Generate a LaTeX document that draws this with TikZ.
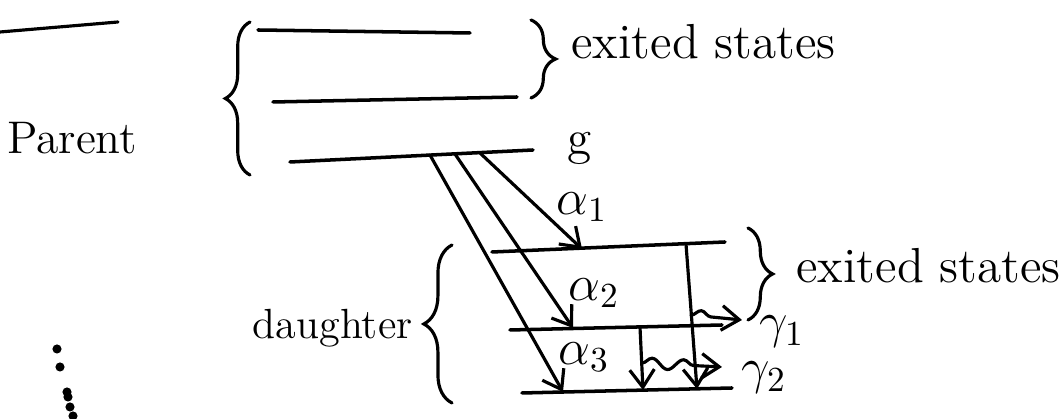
\documentclass[tikz,border=0pt]{standalone}
\usetikzlibrary{arrows.meta,decorations.pathreplacing,decorations.pathmorphing}
\begin{document}
\begin{tikzpicture}[x=0.01cm,y=-0.01cm,line width=0.9pt,line cap=round,
	level/.style={line width=1pt},
	decay/.style={-{Straight Barb[length=5pt,width=7pt]}},
	gammaray/.style={decay,decorate,decoration={snake,amplitude=1.5pt,segment length=9pt,post length=5pt}},
	curly/.style={decorate,decoration={brace,amplitude=#1}},
	hand/.style={font=\fontsize{14}{17}\selectfont,inner sep=0pt}]
	\useasboundingbox (0,0) rectangle (1059,419);
	
	% heading underline
	\coordinate (u1) at (0,32);
	\coordinate (u2) at (118,22);
	\draw (u1) -- (u2);
	
	% parent levels
	\coordinate (p1a) at (258,30);  \coordinate (p1b) at (470,33);
	\coordinate (p2a) at (273,102); \coordinate (p2b) at (517,97);
	\coordinate (g1)  at (290,162); \coordinate (g2)  at (533,150);
	\draw[level] (p1a) -- (p1b);
	\draw[level] (p2a) -- (p2b);
	\draw[level] (g1) -- (g2);
	
	% daughter levels
	\coordinate (d1a) at (492,252); \coordinate (d1b) at (725,242);
	\coordinate (d2a) at (510,330); \coordinate (d2b) at (722,325);
	\coordinate (d3a) at (522,393); \coordinate (d3b) at (732,388);
	\draw[level] (d1a) -- (d1b);
	\draw[level] (d2a) -- (d2b);
	\draw[level] (d3a) -- (d3b);
	
	% braces
	\coordinate (bp1) at (250,175); \coordinate (bp2) at (250,22);
	\coordinate (be1) at (531,20);  \coordinate (be2) at (531,98);
	\coordinate (bd1) at (452,403); \coordinate (bd2) at (452,245);
	\coordinate (bf1) at (748,228); \coordinate (bf2) at (748,320);
	\draw[curly=7pt] (bp1) -- (bp2);
	\draw[curly=7pt] (be1) -- (be2);
	\draw[curly=8pt] (bd1) -- (bd2);
	\draw[curly=7pt] (bf1) -- (bf2);
	
	% labels
	\node[hand,font=\fontsize{13}{16}\selectfont] (parent) at (72,138) {Parent};
	\node[hand,anchor=west] (exc1) at (570,42) {exited states};
	\node[hand] (gnd) at (580,148) {g};
	\node[hand,anchor=east,font=\fontsize{12}{14}\selectfont] (daughter) at (414,328) {daughter};
	\node[hand,anchor=west] (exc2) at (795,266) {exited states};
	
	% alpha decays
	\coordinate (s1) at (480,153);
	\coordinate (s2) at (455,154);
	\coordinate (s3) at (430,155);
	\coordinate (e1) at (582,249);
	\coordinate (e2) at (573,328);
	\coordinate (e3) at (563,392);
	\draw[decay] (s1) -- (e1);
	\draw[decay] (s2) -- (e2);
	\draw[decay] (s3) -- (e3);
	\node[hand] (a1) at (582,207) {$\alpha_1$};
	\node[hand] (a2) at (594,293) {$\alpha_2$};
	\node[hand] (a3) at (584,357) {$\alpha_3$};
	
	% gamma transitions
	\coordinate (t1) at (686,244);
	\coordinate (t2) at (697,389);
	\coordinate (t3) at (640,327);
	\coordinate (t4) at (643,390);
	\draw[decay] (t1) -- (t2);
	\draw[decay] (t3) -- (t4);
	\coordinate (w1) at (691,315); \coordinate (w2) at (742,320);
	\coordinate (w3) at (642,363); \coordinate (w4) at (722,367);
	\draw[gammaray] (w1) -- (w2);
	\draw[gammaray] (w3) -- (w4);
	\node[hand] (gam1) at (782,332) {$\gamma_1$};
	\node[hand] (gam2) at (764,378) {$\gamma_2$};
	
	% dots
	\foreach \px/\py in {57/349,60/367,67/392,68/397,70/407,73/416}
		\fill (\px,\py) circle (1.3pt);
\end{tikzpicture}
\end{document}
